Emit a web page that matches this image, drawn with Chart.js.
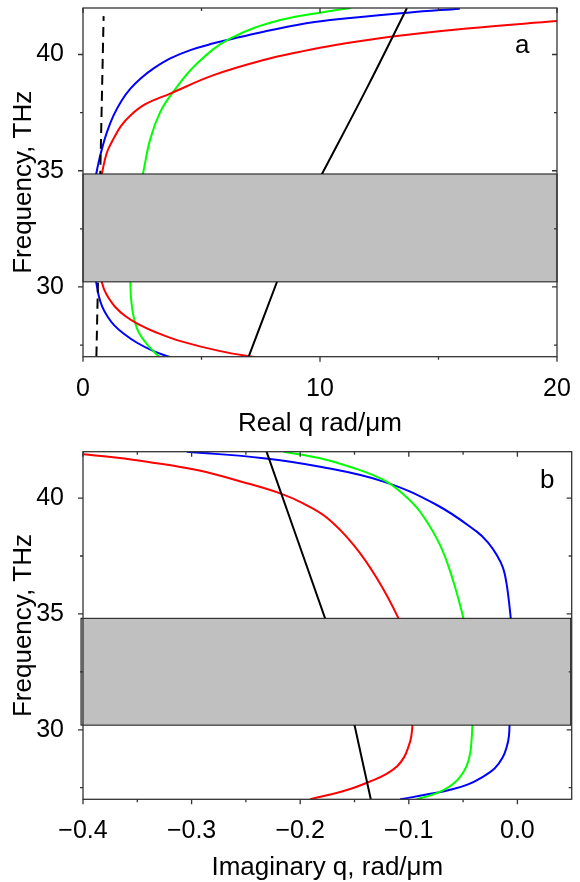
<!DOCTYPE html>
<html>
<head>
<meta charset="utf-8">
<script src="https://cdn.jsdelivr.net/npm/chart.js@4"></script>
<style>
  body { margin: 0; background: #fff; }
  .wrap { position: relative; width: 580px; height: 882px; }
  canvas { position: absolute; left: 0; }
  .tag { position: absolute; font: 26px/26px "Liberation Sans", Arial, sans-serif; color: #000; }
</style>
</head>
<body>
<div class="wrap">
  <canvas id="chartA" width="580" height="441" style="top:0"></canvas>
  <canvas id="chartB" width="580" height="441" style="top:441px"></canvas>
  <div class="tag" style="left:515px;top:31px">a</div>
  <div class="tag" style="left:540px;top:466px">b</div>
</div>
<script>
// frequency axis, THz
const freqTicks = [30, 35, 40];
const freqMinor = [27.5, 32.5, 37.5];

// panel a: Re q (rad/um) vs f (THz)
const reTicks = [0, 10, 20];
const reMinor = [5, 15];
const reGap = [30.22, 34.86];
const reLight = [[0.565, 27], [0.87, 41.65]];
const reBlueUp = [[0.51, 34.6], [0.56, 34.87], [0.66, 35.37], [0.80, 35.94], [1.01, 36.66], [1.29, 37.38], [1.64, 38.03], [2.0, 38.53], [2.42, 38.96], [2.98, 39.4], [3.68, 39.83], [4.53, 40.19], [5.51, 40.48], [6.36, 40.69], [7.62, 40.98], [9.03, 41.27], [10.43, 41.48], [13.7, 41.8], [15.9, 41.97]];
const reRedUp = [[0.75, 34.6], [0.80, 34.87], [0.90, 35.37], [1.04, 35.87], [1.29, 36.38], [1.60, 36.92], [2.0, 37.38], [2.63, 37.86], [3.68, 38.32], [5.51, 39.11], [7.62, 39.76], [9.17, 40.12], [10.43, 40.37], [12.97, 40.76], [16.2, 41.12], [20, 41.44]];
const reGreenUp = [[2.48, 34.6], [2.53, 34.87], [2.84, 36.37], [3.26, 37.53], [3.75, 38.32], [4.81, 39.61], [6.22, 40.69], [8.32, 41.48], [10.44, 41.87], [11.3, 42]];
const reBlackUp = [[9.95, 34.6], [11.95, 38.5], [13.67, 42]];
const reBlueLow = [[0.51, 30.45], [0.56, 30.19], [0.66, 29.64], [0.81, 29.15], [1.04, 28.72], [1.32, 28.35], [1.71, 28.0], [2.28, 27.6], [2.98, 27.24], [3.75, 26.95]];
const reRedLow = [[0.72, 30.45], [0.80, 30.19], [0.90, 29.87], [1.07, 29.54], [1.35, 29.15], [1.78, 28.75], [2.35, 28.39], [3.12, 28.03], [4.11, 27.67], [5.79, 27.24], [7.41, 26.95]];
const reGreenLow = [[1.995, 30.45], [2.0, 30.19], [2.02, 29.61], [2.08, 29.04], [2.18, 28.53], [2.36, 28.03], [2.70, 27.53], [3.01, 27.2], [3.26, 26.95]];
const reBlackLow = [[6.99, 27], [8.27, 30.45]];

// panel b: Im q (rad/um) vs f (THz)
const imTicks = [-0.4, -0.3, -0.2, -0.1, 0.0];
const imMinor = [-0.35, -0.25, -0.15, -0.05];
const imGap = [30.2, 34.81];
const imBlueUp = [[-0.3043, 42.0], [-0.2338, 41.72], [-0.1816, 41.35], [-0.1233, 40.71], [-0.0742, 39.70], [-0.0374, 38.55], [-0.0270, 38.08], [-0.0190, 37.54], [-0.0132, 36.98], [-0.0098, 36.25], [-0.0061, 34.81], [-0.0056, 34.39]];
const imRedUp = [[-0.3994, 41.89], [-0.3703, 41.75], [-0.3411, 41.57], [-0.2951, 41.21], [-0.2491, 40.64], [-0.2184, 40.20], [-0.1982, 39.79], [-0.1751, 39.14], [-0.1509, 37.98], [-0.1294, 36.54], [-0.1095, 34.81], [-0.1075, 34.39]];
const imGreenUp = [[-0.2154, 42.0], [-0.1816, 41.72], [-0.1521, 41.32], [-0.1233, 40.78], [-0.1052, 40.17], [-0.0896, 39.41], [-0.0712, 37.97], [-0.0589, 36.39], [-0.0497, 34.81], [-0.0481, 34.39]];
const imBlackUp = [[-0.231, 42], [-0.174, 34.4]];
const imBlueLow = [[-0.1080, 27.0], [-0.0773, 27.26], [-0.0619, 27.41], [-0.0466, 27.62], [-0.0330, 27.94], [-0.0210, 28.33], [-0.0136, 28.80], [-0.0098, 29.27], [-0.0078, 29.73], [-0.0071, 30.42]];
const imRedLow = [[-0.1908, 27.0], [-0.1570, 27.40], [-0.1325, 27.83], [-0.1209, 28.09], [-0.1107, 28.43], [-0.1043, 28.82], [-0.1003, 29.27], [-0.0978, 29.69], [-0.0962, 30.42]];
const imGreenLow = [[-0.0926, 27.0], [-0.0794, 27.18], [-0.0681, 27.40], [-0.0596, 27.65], [-0.0527, 27.97], [-0.0468, 28.43], [-0.0435, 28.98], [-0.0422, 29.56], [-0.0412, 30.42]];
const imBlackLow = [[-0.135, 27], [-0.151, 30.42]];

const FONT = '"Liberation Sans", Arial, sans-serif';

function line(points, color, dash) {
  return {
    data: points.map(p => ({ x: p[0], y: p[1] })),
    borderColor: color,
    borderWidth: 2,
    borderDash: dash || [],
    pointRadius: 0,
    tension: 0.4,
    fill: false
  };
}

// grey gap band, frame and all tick marks
const framePlugin = {
  id: 'frame',
  afterDatasetsDraw(chart, args, opts) {
    const { ctx, chartArea: a, scales: { x, y } } = chart;
    ctx.save();
    const yTop = y.getPixelForValue(opts.gap[1]);
    const yBot = y.getPixelForValue(opts.gap[0]);
    const bl = a.left + opts.gapLeft, br = a.right + opts.gapRight;
    ctx.fillStyle = '#c0c0c0';
    ctx.fillRect(bl, yTop, br - bl, yBot - yTop);
    ctx.strokeStyle = '#111';
    ctx.lineWidth = 1;
    ctx.strokeRect(bl, yTop, br - bl, yBot - yTop);

    ctx.strokeStyle = '#333';
    ctx.lineWidth = 1.3;
    ctx.strokeRect(a.left, a.top, a.right - a.left, a.bottom - a.top);

    ctx.beginPath();
    const xt = (v, len) => {
      const px = x.getPixelForValue(v);
      ctx.moveTo(px, a.bottom); ctx.lineTo(px, a.bottom + len);
      ctx.moveTo(px, a.top); ctx.lineTo(px, a.top + len);
    };
    const yt = (v, len) => {
      const py = y.getPixelForValue(v);
      ctx.moveTo(a.left, py); ctx.lineTo(a.left - len, py);
      ctx.moveTo(a.right, py); ctx.lineTo(a.right - len, py);
    };
    x.ticks.forEach(t => xt(t.value, 5));
    opts.xMinor.forEach(v => xt(v, 3));
    y.ticks.forEach(t => yt(t.value, 5));
    opts.yMinor.forEach(v => yt(v, 3));
    ctx.stroke();
    ctx.restore();
  }
};

function makeChart(id, cfg) {
  return new Chart(document.getElementById(id), {
    type: 'line',
    data: { datasets: cfg.datasets },
    options: {
      responsive: false,
      animation: false,
      layout: { padding: cfg.padding },
      plugins: {
        legend: { display: false },
        tooltip: { enabled: false },
        frame: { gap: cfg.gap, gapLeft: cfg.gapLeft, gapRight: cfg.gapRight, xMinor: cfg.xMinor, yMinor: freqMinor }
      },
      scales: {
        x: {
          type: 'linear',
          min: cfg.xMin,
          max: cfg.xMax,
          grid: { display: false },
          border: { display: false },
          afterBuildTicks: s => { s.ticks = cfg.xTicks.map(v => ({ value: v })); },
          afterFit: s => { s.height = cfg.xAxisH; s.paddingLeft = 0; s.paddingRight = 0; },
          ticks: {
            color: '#000',
            padding: 9,
            font: { family: FONT, size: 25 },
            callback: cfg.fmt
          },
          title: {
            display: true,
            text: cfg.xTitle,
            color: '#000',
            font: { family: FONT, size: 26, lineHeight: 1 },
            padding: { top: 0, bottom: cfg.titlePad }
          }
        },
        y: {
          type: 'linear',
          min: 27,
          max: 42,
          grid: { display: false },
          border: { display: false },
          afterBuildTicks: s => { s.ticks = freqTicks.map(v => ({ value: v })); },
          afterFit: s => { s.width = 83; s.paddingTop = 0; s.paddingBottom = 0; },
          ticks: {
            color: '#000',
            padding: 11,
            font: { family: FONT, size: 25 }
          },
          title: {
            display: true,
            text: 'Frequency, THz',
            color: '#000',
            font: { family: FONT, size: 26, lineHeight: 1 },
            padding: { top: 11, bottom: 0 }
          }
        }
      }
    },
    plugins: [framePlugin]
  });
}

makeChart('chartA', {
  datasets: [
    line(reLight, '#000', [10, 6]),
    line(reBlackUp, '#000'), line(reBlackLow, '#000'),
    line(reRedUp, '#ff0000'), line(reRedLow, '#ff0000'),
    line(reGreenUp, '#00ff00'), line(reGreenLow, '#00ff00'),
    line(reBlueUp, '#0000ff'), line(reBlueLow, '#0000ff')
  ],
  padding: { left: 0, right: 23, top: 8, bottom: 0 },
  xAxisH: 84.3,
  xMin: 0, xMax: 20,
  xTicks: reTicks, xMinor: reMinor,
  fmt: v => String(v),
  xTitle: 'Real q rad/\u03bcm',
  titlePad: 4.5,
  gap: reGap, gapLeft: 0, gapRight: 0
});

makeChart('chartB', {
  datasets: [
    line(imBlackUp, '#000'), line(imBlackLow, '#000'),
    line(imRedUp, '#ff0000'), line(imRedLow, '#ff0000'),
    line(imGreenUp, '#00ff00'), line(imGreenLow, '#00ff00'),
    line(imBlueUp, '#0000ff'), line(imBlueLow, '#0000ff')
  ],
  padding: { left: 0, right: 8.3, top: 10.7, bottom: 0 },
  xAxisH: 82.7,
  xMin: -0.4, xMax: 0.05,
  xTicks: imTicks, xMinor: imMinor,
  fmt: v => (v < -1e-9 ? '\u2212' : '') + Math.abs(v).toFixed(1),
  xTitle: 'Imaginary q, rad/\u03bcm',
  titlePad: 1,
  gap: imGap, gapLeft: -2, gapRight: -1
});
</script>
</body>
</html>
